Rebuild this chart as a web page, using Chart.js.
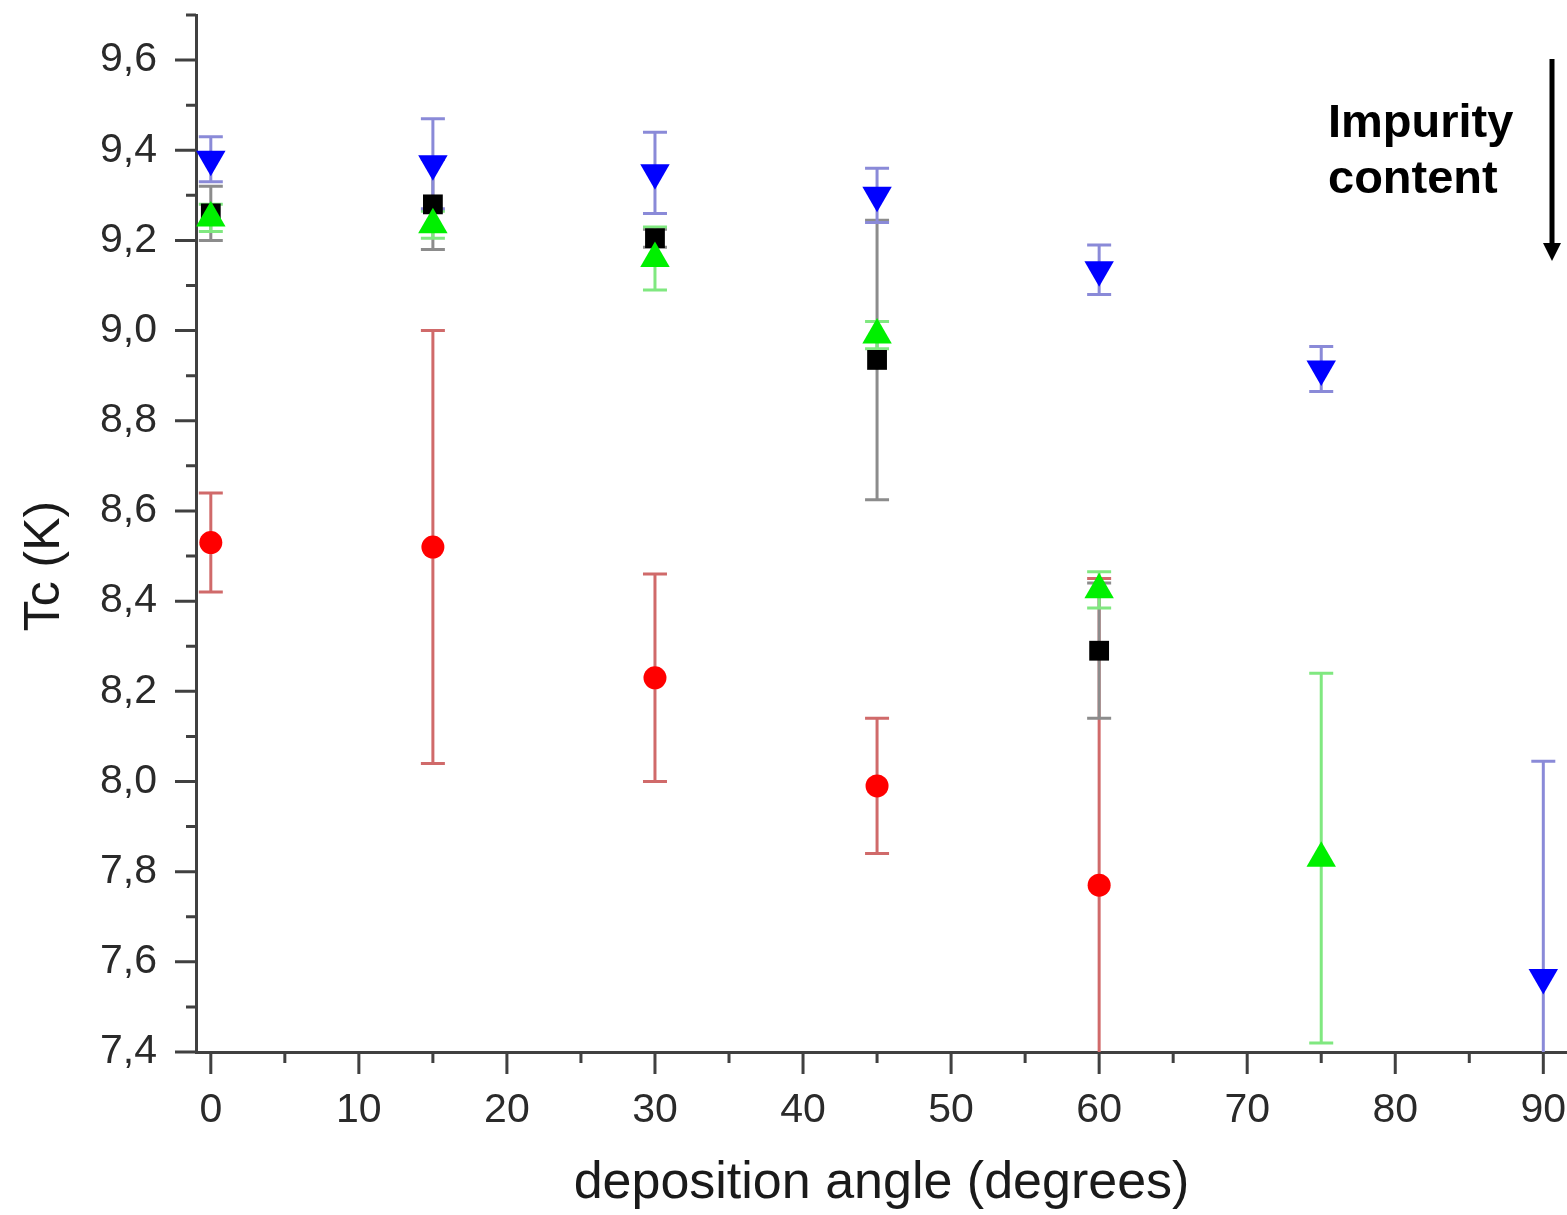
<!DOCTYPE html>
<html>
<head>
<meta charset="utf-8">
<script src="https://cdn.jsdelivr.net/npm/chart.js@4.4.1/dist/chart.umd.min.js"></script>
<style>
  html, body { margin: 0; padding: 0; background: #fff; }
  #wrap { width: 1567px; height: 1215px; }
</style>
</head>
<body>
<div id="wrap"><canvas id="c" width="1567" height="1215"></canvas></div>
<script>
'use strict';

// deposition angles (degrees)
const angles = [0, 15, 30, 45, 60, 75, 90];

// Tc values (K) and error bars (null = no point)
const tcBlue = [9.38, 9.37, 9.35, 9.30, 9.135, 8.915, 7.565];
const errBlue = [0.05, 0.10, 0.09, 0.06, 0.055, 0.05, 0.48];
const tcGreen = [9.25, 9.235, 9.16, 8.99, 8.425, 7.83, null];
const errGreen = [0.03, 0.03, 0.07, 0.03, 0.04, 0.41, null];
const tcBlack = [9.26, 9.28, 9.205, 8.935, 8.29, null, null];
const errBlack = [0.06, 0.10, 0.02, 0.31, 0.15, null, null];
const tcRed = [8.53, 8.52, 8.23, 7.99, 7.77, null, null];
const errRed = [0.11, 0.48, 0.23, 0.15, 0.68, null, null];

// axis ticks
const xMajorTicks = [0, 10, 20, 30, 40, 50, 60, 70, 80, 90];
const xMinorTicks = [5, 15, 25, 35, 45, 55, 65, 75, 85];
const yMajorTicks = [7.4, 7.6, 7.8, 8.0, 8.2, 8.4, 8.6, 8.8, 9.0, 9.2, 9.4, 9.6];
const yMinorTicks = [7.5, 7.7, 7.9, 8.1, 8.3, 8.5, 8.7, 8.9, 9.1, 9.3, 9.5, 9.7];

const axisColor = '#404040';
const textFont = '"Liberation Sans", Arial, sans-serif';

function points(ys) {
  const out = [];
  ys.forEach((y, i) => { if (y !== null) out.push({ x: angles[i], y }); });
  return out;
}

const series = [
  { label: 'blue', values: tcBlue, errs: errBlue, color: '#0000ff', bar: '#8a8ad8', style: 'triangle', radius: 17, rotation: 180 },
  { label: 'green', values: tcGreen, errs: errGreen, color: '#00f000', bar: '#80e880', style: 'triangle', radius: 17, rotation: 0 },
  { label: 'black', values: tcBlack, errs: errBlack, color: '#000000', bar: '#8c8c8c', style: 'rect', radius: 14, rotation: 0 },
  { label: 'red', values: tcRed, errs: errRed, color: '#ff0000', bar: '#d06a6a', style: 'circle', radius: 11.5, rotation: 0 }
];

// error bars, drawn through the scales before the markers
const errorBars = {
  id: 'errorBars',
  beforeDatasetsDraw(chart) {
    const { ctx, chartArea: a, scales: { x, y } } = chart;
    ctx.save();
    ctx.beginPath();
    ctx.rect(a.left, a.top, a.right - a.left, a.bottom - a.top);
    ctx.clip();
    ctx.lineWidth = 3;
    // bottom-most series bars first
    series.slice().reverse().forEach(s => {
      ctx.strokeStyle = s.bar;
      s.values.forEach((v, i) => {
        if (v === null || s.errs[i] === null) return;
        const px = x.getPixelForValue(angles[i]);
        const top = y.getPixelForValue(v + s.errs[i]);
        const bot = y.getPixelForValue(v - s.errs[i]);
        ctx.beginPath();
        ctx.moveTo(px, top); ctx.lineTo(px, bot);
        ctx.moveTo(px - 12, top); ctx.lineTo(px + 12, top);
        ctx.moveTo(px - 12, bot); ctx.lineTo(px + 12, bot);
        ctx.stroke();
      });
    });
    ctx.restore();
  }
};

// outward tick marks, y title and the impurity annotation
const decorations = {
  id: 'decorations',
  afterDraw(chart) {
    const { ctx, chartArea: a, scales: { x, y } } = chart;
    ctx.save();
    ctx.strokeStyle = axisColor;
    ctx.lineWidth = 3;
    ctx.beginPath();
    xMajorTicks.forEach(v => { const p = x.getPixelForValue(v); ctx.moveTo(p, a.bottom); ctx.lineTo(p, a.bottom + 22); });
    xMinorTicks.forEach(v => { const p = x.getPixelForValue(v); ctx.moveTo(p, a.bottom); ctx.lineTo(p, a.bottom + 11); });
    yMajorTicks.forEach(v => { const p = y.getPixelForValue(v); ctx.moveTo(a.left, p); ctx.lineTo(a.left - 21, p); });
    yMinorTicks.forEach(v => { const p = y.getPixelForValue(v); ctx.moveTo(a.left, p); ctx.lineTo(a.left - 10, p); });
    ctx.stroke();

    // y axis title
    ctx.save();
    ctx.translate(45, 566);
    ctx.rotate(-Math.PI / 2);
    ctx.fillStyle = '#1a1a1a';
    ctx.font = '50px ' + textFont;
    ctx.textAlign = 'center';
    ctx.textBaseline = 'middle';
    ctx.fillText('Tc (K)', 0, 0);
    ctx.restore();

    // annotation
    ctx.fillStyle = '#000';
    ctx.font = 'bold 47px ' + textFont;
    ctx.textAlign = 'left';
    ctx.textBaseline = 'alphabetic';
    ctx.fillText('Impurity', 1328, 137);
    ctx.fillText('content', 1328, 193);

    ctx.strokeStyle = '#000';
    ctx.lineWidth = 5;
    ctx.beginPath();
    ctx.moveTo(1552, 59);
    ctx.lineTo(1552, 246);
    ctx.stroke();
    ctx.beginPath();
    ctx.moveTo(1543, 243);
    ctx.lineTo(1561, 243);
    ctx.lineTo(1552, 261);
    ctx.closePath();
    ctx.fill();
    ctx.restore();
  }
};

function noPad(sc) {
  sc.paddingLeft = 0; sc.paddingRight = 0; sc.paddingTop = 0; sc.paddingBottom = 0;
}

new Chart(document.getElementById('c'), {
  type: 'scatter',
  data: {
    datasets: series.map(s => ({
      label: s.label,
      data: points(s.values),
      showLine: false,
      pointStyle: s.style,
      pointRadius: s.radius,
      pointRotation: s.rotation,
      pointBackgroundColor: s.color,
      pointBorderColor: s.color,
      pointBorderWidth: 0
    }))
  },
  options: {
    responsive: false,
    animation: false,
    devicePixelRatio: 1,
    layout: { autoPadding: false, padding: { top: 15, right: 0, left: 0, bottom: 0 } },
    plugins: { legend: { display: false }, tooltip: { enabled: false } },
    scales: {
      x: {
        type: 'linear',
        min: -1,
        max: 91.6,
        grid: { display: false },
        border: { display: true, color: axisColor, width: 3 },
        afterBuildTicks: sc => { sc.ticks = xMajorTicks.map(v => ({ value: v })); },
        afterFit: sc => { sc.height = 163; noPad(sc); },
        ticks: {
          autoSkip: false,
          maxRotation: 0,
          padding: 26,
          color: '#2a2a2a',
          font: { family: textFont, size: 41 },
          callback: v => String(v)
        },
        title: {
          display: true,
          text: 'deposition angle (degrees)',
          color: '#1a1a1a',
          font: { family: textFont, size: 52 },
          padding: { top: 0, bottom: 0 }
        }
      },
      y: {
        type: 'linear',
        min: 7.4,
        max: 9.7,
        grid: { display: false },
        border: { display: true, color: axisColor, width: 3 },
        afterBuildTicks: sc => { sc.ticks = yMajorTicks.map(v => ({ value: v })); },
        afterFit: sc => { sc.width = 196; noPad(sc); },
        ticks: {
          autoSkip: false,
          padding: 31,
          color: '#2a2a2a',
          font: { family: textFont, size: 41 },
          callback: v => v.toFixed(1).replace('.', ',')
        }
      }
    }
  },
  plugins: [errorBars, decorations]
});
</script>
</body>
</html>
